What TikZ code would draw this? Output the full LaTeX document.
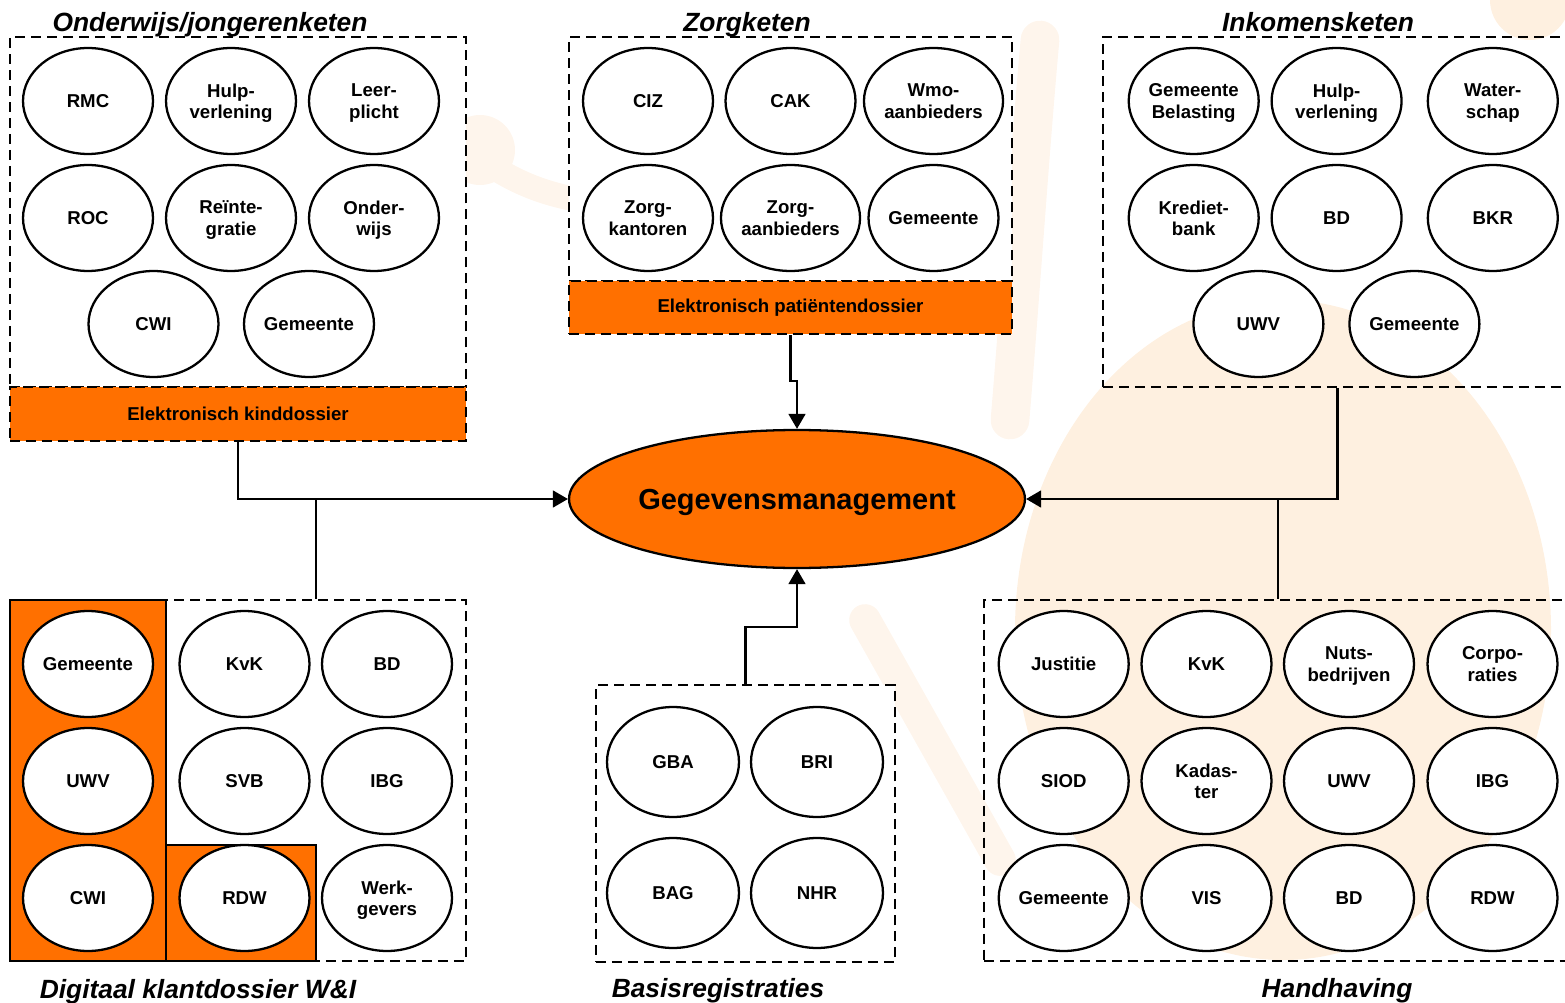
\documentclass[tikz,border=0pt]{standalone}
\usepackage{fontspec}
\setmainfont{Liberation Sans}
\usetikzlibrary{shapes.geometric,fit,arrows.meta}
\definecolor{ora}{RGB}{255,112,0}
\definecolor{wm}{RGB}{254,240,224}
\definecolor{wml}{RGB}{254,245,236}
\tikzset{
  ell/.style={ellipse, draw, line width=1.3pt, fill=white, minimum width=2.6cm, minimum height=2.12cm, inner sep=0pt, align=center, text depth=0pt, font=\bfseries\fontsize{10.6}{12.2}\selectfont},
  ellb/.style={ell, minimum width=2.64cm, minimum height=2.2cm},
  dbox/.style={draw, line width=1.3pt, dash pattern=on 5.7pt off 3.4pt, inner sep=0pt},
  obar/.style={dbox, fill=ora},
  obox/.style={draw, line width=1.3pt, fill=ora, inner sep=0pt},
  bartxt/.style={font=\bfseries\fontsize{10.6}{12.2}\selectfont},
  ttl/.style={anchor=base, inner sep=0pt, font=\bfseries\itshape\fontsize{15}{18}\selectfont},
  conn/.style={line width=1.3pt},
  arr/.style={conn, -{Triangle[length=8.5pt,width=9.5pt]}},
}
\begin{document}
\begin{tikzpicture}[x=0.02cm,y=-0.02cm]
\useasboundingbox (0,0) rectangle (1565,1003);
% watermark (faint logo)
\fill[wm] (1283,630) ellipse [x radius=268, y radius=330];
\fill[wml] (480,150) circle [radius=35];
\draw[wml, line width=14pt, line cap=round] (490,165) .. controls (520,185) and (550,195) .. (580,200);
\draw[wml, line width=18pt, line cap=round] (865,620) -- (1000,860);
\draw[wml, line width=22pt, line cap=round] (1040,40) .. controls (1030,150) and (1020,300) .. (1010,420);
\fill[wm] (1530,0) circle [radius=40];
% boxes
\coordinate (p1a) at (10,37);   \coordinate (p1b) at (466,387);
\coordinate (q1a) at (10,387);  \coordinate (q1b) at (466,441);
\coordinate (p2a) at (569,37);  \coordinate (p2b) at (1012,281);
\coordinate (q2a) at (569,281); \coordinate (q2b) at (1012,334);
\coordinate (p3a) at (1103,37); \coordinate (p3b) at (1572,387);
\coordinate (p4a) at (166,600); \coordinate (p4b) at (466,961);
\coordinate (o4a) at (10,600);  \coordinate (o4b) at (166,961);
\coordinate (r4a) at (166,845); \coordinate (r4b) at (316,961);
\coordinate (p5a) at (596,685); \coordinate (p5b) at (895,962);
\coordinate (p6a) at (984,600); \coordinate (p6b) at (1572,961);
\node[dbox, fill=white, fit=(p1a)(p1b)] (b1) {};
\node[obar, fit=(q1a)(q1b)] (bar1) {};
\node[bartxt] at (bar1.center) (bar1t) {Elektronisch kinddossier};
\node[dbox, fill=white, fit=(p2a)(p2b)] (b2) {};
\node[obar, fit=(q2a)(q2b)] (bar2) {};
\node[bartxt] at (bar2.center) (bar2t) {Elektronisch patiëntendossier};
\node[dbox, fit=(p3a)(p3b)] (b3) {};
\node[dbox, fill=white, fit=(p4a)(p4b)] (d4) {};
\node[obox, fit=(o4a)(o4b)] (oa4) {};
\node[obox, fit=(r4a)(r4b)] (ob4) {};
\node[dbox, fill=white, fit=(p5a)(p5b)] (b5) {};
\node[dbox, fit=(p6a)(p6b)] (b6) {};
% titles
\node[ttl] (t1) at (210,32) {Onderwijs/jongerenketen};
\node[ttl] (t2) at (747,32) {Zorgketen};
\node[ttl] (t3) at (1318,32) {Inkomensketen};
\node[ttl] (t4) at (198,998) {Digitaal klantdossier W\&I};
\node[ttl] (t5) at (718,997) {Basisregistraties};
\node[ttl] (t6) at (1337,997) {Handhaving};
% Onderwijs
\node[ell] (a1) at (88,101) {RMC};
\node[ell] (a2) at (231,101) {Hulp-\\verlening};
\node[ell] (a3) at (374,101) {Leer-\\plicht};
\node[ell] (a4) at (88,218) {ROC};
\node[ell] (a5) at (231,218) {Reïnte-\\gratie};
\node[ell] (a6) at (374,218) {Onder-\\wijs};
\node[ell] (a7) at (153.5,324) {CWI};
\node[ell] (a8) at (309,324) {Gemeente};
% Zorg
\node[ell] (z1) at (648,101) {CIZ};
\node[ell] (z2) at (790.5,101) {CAK};
\node[ell] (z3) at (933.5,101) {Wmo-\\aanbieders};
\node[ell] (z4) at (648,218) {Zorg-\\kantoren};
\node[ell] (z5) at (790.5,218) {Zorg-\\aanbieders};
\node[ell] (z6) at (933.5,218) {Gemeente};
% Inkomens
\node[ell] (i1) at (1193.7,101) {Gemeente\\Belasting};
\node[ell] (i2) at (1336.6,101) {Hulp-\\verlening};
\node[ell] (i3) at (1492.8,101) {Water-\\schap};
\node[ell] (i4) at (1193.7,218) {Krediet-\\bank};
\node[ell] (i5) at (1336.6,218) {BD};
\node[ell] (i6) at (1492.8,218) {BKR};
\node[ell] (i7) at (1258.4,324) {UWV};
\node[ell] (i8) at (1414.4,324) {Gemeente};
% Digitaal klantdossier
\node[ell] (k1) at (88,664) {Gemeente};
\node[ell] (k2) at (88,781) {UWV};
\node[ell] (k3) at (88,898) {CWI};
\node[ell] (k4) at (244.5,664) {KvK};
\node[ell] (k5) at (244.5,781) {SVB};
\node[ell] (k6) at (244.5,898) {RDW};
\node[ell] (k7) at (387,664) {BD};
\node[ell] (k8) at (387,781) {IBG};
\node[ell] (k9) at (387,898) {Werk-\\gevers};
% Basisregistraties
\node[ellb] (r1) at (673,762) {GBA};
\node[ellb] (r2) at (817,762) {BRI};
\node[ellb] (r3) at (673,893) {BAG};
\node[ellb] (r4) at (817,893) {NHR};
% Handhaving
\node[ell] (h1) at (1063.7,664) {Justitie};
\node[ell] (h2) at (1206.5,664) {KvK};
\node[ell] (h3) at (1349,664) {Nuts-\\bedrijven};
\node[ell] (h4) at (1492.5,664) {Corpo-\\raties};
\node[ell] (h5) at (1063.7,781) {SIOD};
\node[ell] (h6) at (1206.5,781) {Kadas-\\ter};
\node[ell] (h7) at (1349,781) {UWV};
\node[ell] (h8) at (1492.5,781) {IBG};
\node[ell] (h9) at (1063.7,898) {Gemeente};
\node[ell] (h10) at (1206.5,898) {VIS};
\node[ell] (h11) at (1349,898) {BD};
\node[ell] (h12) at (1492.5,898) {RDW};
% central node
\node[ellipse, draw, line width=1.3pt, fill=ora, minimum width=9.12cm, minimum height=2.76cm, inner sep=0pt, text depth=0pt,
      font=\bfseries\fontsize{16.5}{19}\selectfont] (gm) at (797,499) {Gegevensmanagement};
% connectors
\coordinate (jz) at (797,381);
\coordinate (jb) at (797,627);
\draw[arr] (bar1.south) |- (gm.west);
\draw[conn] (d4.north) -- (d4.north |- gm.west);
\draw[arr] (bar2.south) |- (jz) -- (gm.north);
\draw[arr] (b5.north) |- (jb) -- (gm.south);
\draw[arr] (b3.south) |- (gm.east);
\draw[conn] (b6.north) -- (b6.north |- gm.east);
\end{tikzpicture}
\end{document}
